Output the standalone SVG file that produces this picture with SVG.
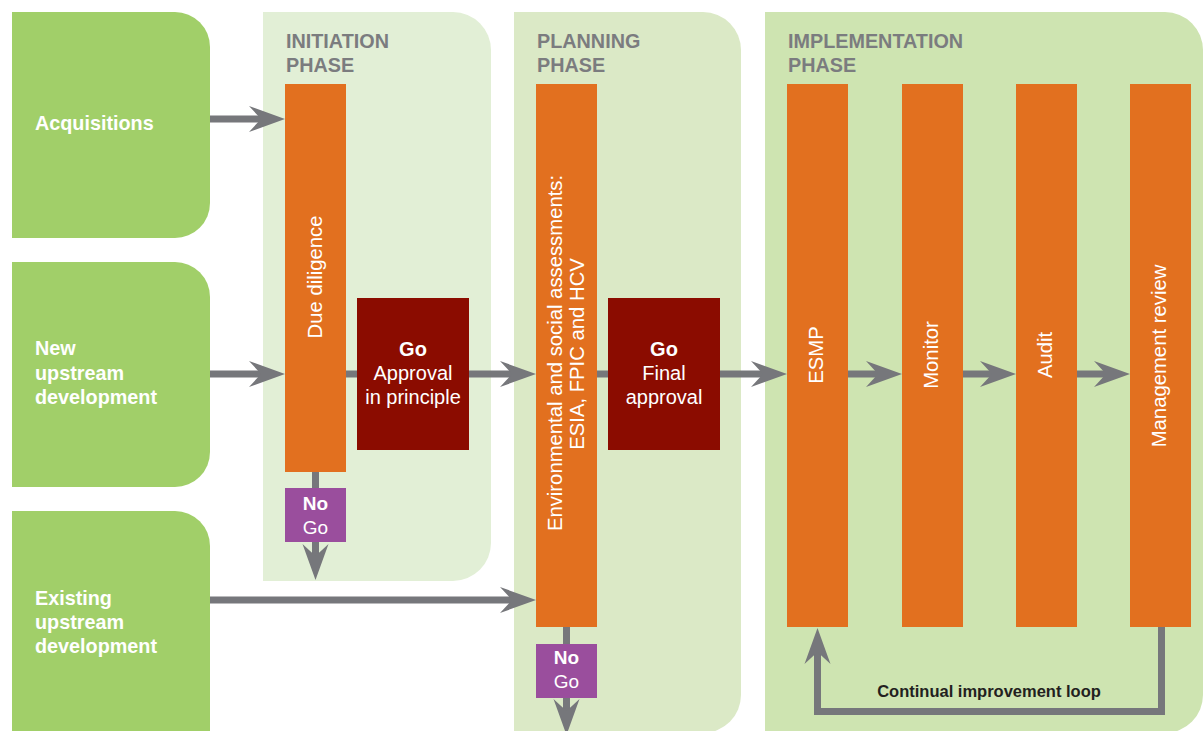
<svg xmlns="http://www.w3.org/2000/svg" width="1203" height="731" viewBox="0 0 1203 731">
<defs>
<style>
text{font-family:"Liberation Sans",Arial,Helvetica,sans-serif;}
.src{fill:#a1cf69;}
.lbl{fill:#fff;font-size:19.8px;font-weight:bold;}
.hdr{fill:#7b7c7f;font-size:19.8px;font-weight:bold;}
.bar{fill:#e2701f;}
.go{fill:#8b0c00;}
.nogo{fill:#9a4e9d;}
.wt{fill:#fff;font-size:20px;text-anchor:middle;}
.vt{fill:#fff;font-size:20.3px;text-anchor:middle;}
.b{font-weight:bold;}
.con{fill:none;stroke:#76777b;stroke-width:7;}
.loopt{fill:#231f20;font-size:16.5px;font-weight:bold;text-anchor:middle;}
</style>
<marker id="arr" markerUnits="userSpaceOnUse" markerWidth="40" markerHeight="30" viewBox="-14 -15 40 30" refX="0" refY="0" orient="auto">
<path d="M-12,-13 L24,0 L-12,13 L0,0 Z" fill="#76777b"/>
</marker>
</defs>
<rect width="1203" height="731" fill="#fff"/>

<g id="phase-initiation">
<path d="M263,12 H453 A38,38 0 0 1 491,50 V543 A38,38 0 0 1 453,581 H263 Z" fill="#e2efd6"/>
<text class="hdr" x="286" y="48">INITIATION</text>
<text class="hdr" x="286" y="72">PHASE</text>
</g>
<g id="phase-planning">
<path d="M514,12 H703 A38,38 0 0 1 741,50 V695 A38,38 0 0 1 703,733 H514 Z" fill="#dbe9c6"/>
<text class="hdr" x="537" y="48">PLANNING</text>
<text class="hdr" x="537" y="72">PHASE</text>
</g>
<g id="phase-implementation">
<path d="M765,12 H1165 A38,38 0 0 1 1203,50 V695 A38,38 0 0 1 1165,733 H765 Z" fill="#cee4b1"/>
<text class="hdr" x="788" y="48">IMPLEMENTATION</text>
<text class="hdr" x="788" y="72">PHASE</text>
</g>

<g id="connectors">
<path class="con" d="M210,119 H261" marker-end="url(#arr)"/>
<path class="con" d="M210,374 H261" marker-end="url(#arr)"/>
<path class="con" d="M346,374 H357"/>
<path class="con" d="M469,374 H512" marker-end="url(#arr)"/>
<path class="con" d="M597,374 H608"/>
<path class="con" d="M720,374 H763" marker-end="url(#arr)"/>
<path class="con" d="M848,374 H878" marker-end="url(#arr)"/>
<path class="con" d="M963,374 H992" marker-end="url(#arr)"/>
<path class="con" d="M1077,374 H1106" marker-end="url(#arr)"/>
<path class="con" d="M210,600 H512" marker-end="url(#arr)"/>
<path class="con" d="M315.5,472 V488"/>
<path class="con" d="M315.5,541 V556" marker-end="url(#arr)"/>
<path class="con" d="M566.5,627 V644"/>
<path class="con" d="M566.5,697 V711" marker-end="url(#arr)"/>
<path class="con" d="M1161.5,627 V711.5 H817.5 V652" marker-end="url(#arr)"/>
<text class="loopt" x="989" y="697">Continual improvement loop</text>
</g>

<g id="acquisitions">
<path class="src" d="M12,12 H175 A35,35 0 0 1 210,47 V203 A35,35 0 0 1 175,238 H12 Z"/>
<text class="lbl" x="35" y="130">Acquisitions</text>
</g>
<g id="new-upstream">
<path class="src" d="M12,262 H175 A35,35 0 0 1 210,297 V452 A35,35 0 0 1 175,487 H12 Z"/>
<text class="lbl" x="35" y="355">New</text>
<text class="lbl" x="35" y="380">upstream</text>
<text class="lbl" x="35" y="404">development</text>
</g>
<g id="existing-upstream">
<path class="src" d="M12,511 H175 A35,35 0 0 1 210,546 V760 H12 Z"/>
<text class="lbl" x="35" y="605">Existing</text>
<text class="lbl" x="35" y="629">upstream</text>
<text class="lbl" x="35" y="653">development</text>
</g>

<g id="due-diligence">
<rect class="bar" x="285" y="84" width="61" height="388"/>
<text class="vt" transform="translate(322,277) rotate(-90)">Due diligence</text>
</g>
<g id="nogo-1">
<rect class="nogo" x="285" y="488" width="61" height="54"/>
<text class="wt b" x="315.5" y="510" style="font-size:19px">No</text>
<text class="wt" x="315.5" y="534" style="font-size:19px">Go</text>
</g>
<g id="go-approval">
<rect class="go" x="357" y="298" width="112" height="152"/>
<text class="wt b" x="413" y="356">Go</text>
<text class="wt" x="413" y="380">Approval</text>
<text class="wt" x="413" y="404">in principle</text>
</g>

<g id="assessments">
<rect class="bar" x="536" y="84" width="61" height="543"/>
<text class="vt" transform="translate(562,353) rotate(-90)">Environmental and social assessments:</text>
<text class="vt" transform="translate(584,354) rotate(-90)">ESIA, FPIC and HCV</text>
</g>
<g id="nogo-2">
<rect class="nogo" x="536" y="644" width="61" height="54"/>
<text class="wt b" x="566.5" y="664" style="font-size:19px">No</text>
<text class="wt" x="566.5" y="688" style="font-size:19px">Go</text>
</g>
<g id="go-final">
<rect class="go" x="608" y="298" width="112" height="152"/>
<text class="wt b" x="664" y="356">Go</text>
<text class="wt" x="664" y="380">Final</text>
<text class="wt" x="664" y="404">approval</text>
</g>

<g id="esmp">
<rect class="bar" x="787" y="84" width="61" height="543"/>
<text class="vt" transform="translate(823,355) rotate(-90)">ESMP</text>
</g>
<g id="monitor">
<rect class="bar" x="902" y="84" width="61" height="543"/>
<text class="vt" transform="translate(938,355) rotate(-90)">Monitor</text>
</g>
<g id="audit">
<rect class="bar" x="1016" y="84" width="61" height="543"/>
<text class="vt" transform="translate(1052,355) rotate(-90)">Audit</text>
</g>
<g id="management-review">
<rect class="bar" x="1130" y="84" width="61" height="543"/>
<text class="vt" transform="translate(1166,356) rotate(-90)">Management review</text>
</g>
</svg>
